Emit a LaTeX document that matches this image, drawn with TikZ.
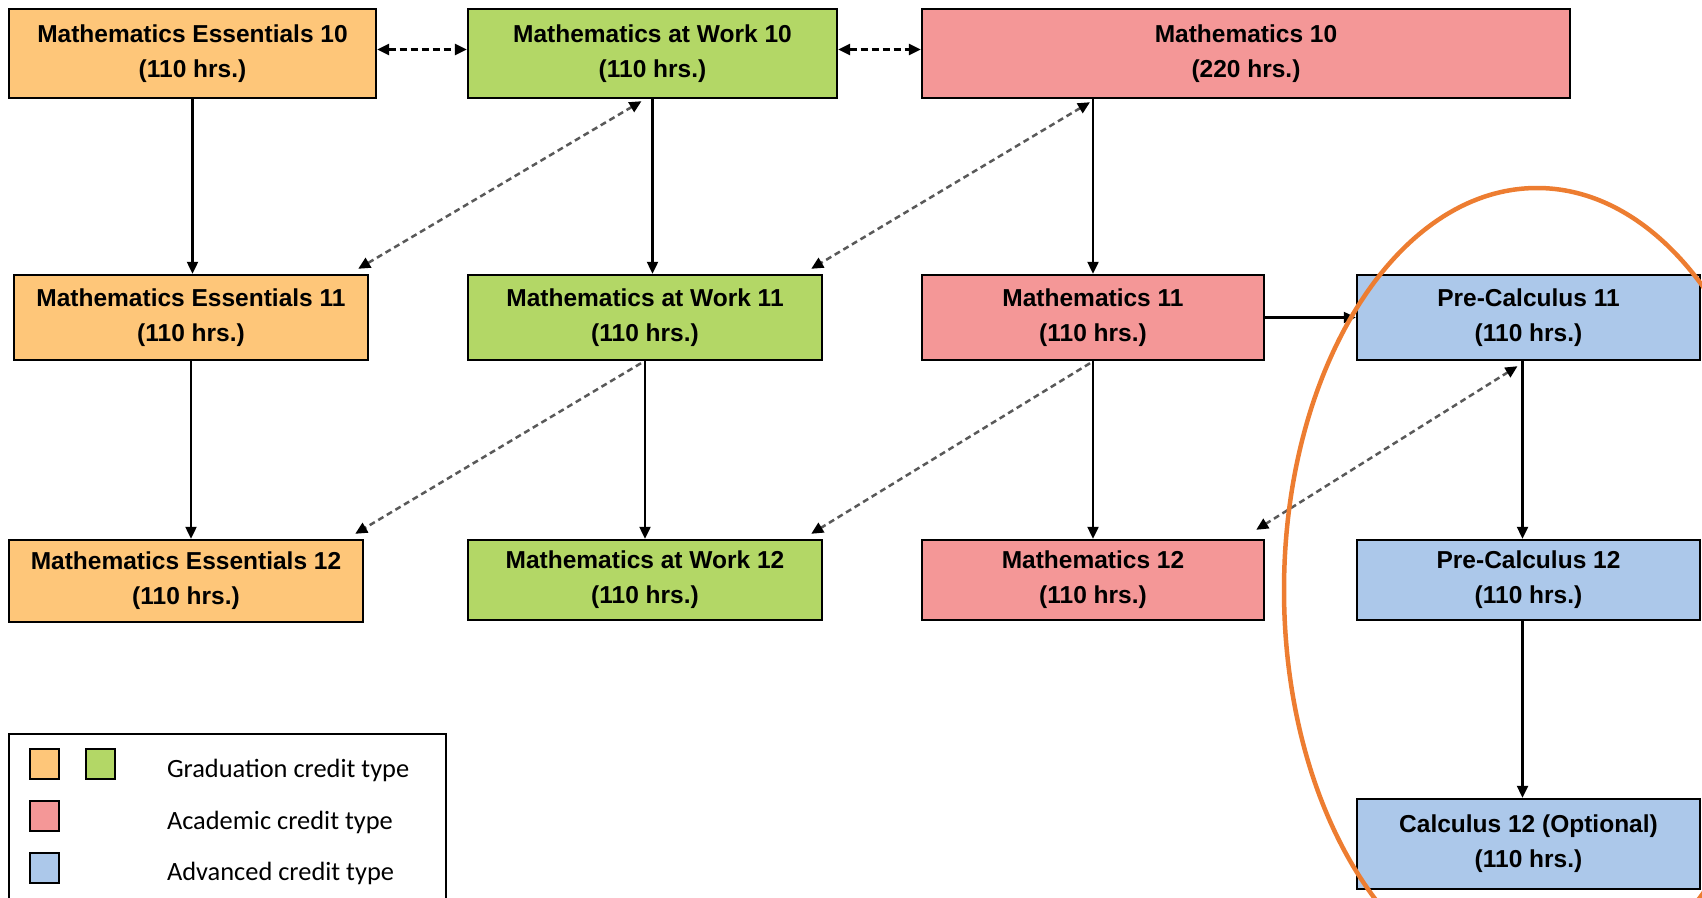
\documentclass[tikz,border=0pt]{standalone}
\usepackage{fontspec}
\setmainfont{Liberation Sans}
\newfontfamily\keyfont{Carlito}
\usetikzlibrary{arrows.meta,calc}

\definecolor{essfill}{RGB}{254,198,121}
\definecolor{workfill}{RGB}{179,215,102}
\definecolor{mathfill}{RGB}{244,151,151}
\definecolor{prefill}{RGB}{172,200,234}
\definecolor{ringorange}{RGB}{237,125,49}

\tikzset{
	course/.style={draw=black, line width=2.4pt, align=center, inner sep=0pt,
		font=\fontsize{24.5}{35}\selectfont\bfseries},
	keysq/.style={draw=black, line width=2pt, minimum width=29pt, minimum height=30pt, inner sep=0pt},
	keytext/.style={font=\keyfont\fontsize{26.4}{30}\selectfont, inner sep=0pt},
	pathlink/.style={line width=2.2pt},
	swaplink/.style={line width=2.5pt, dash pattern=on 7pt off 4pt},
	dotlink/.style={draw=black!65, line width=2.5pt, dash pattern=on 6pt off 4pt}}
\tikzset{every picture/.style={line width=2pt}}

\begin{document}
\begin{tikzpicture}[x=1pt,y=1pt,yscale=-1,xscale=1,
	>={Triangle[length=12pt,width=11pt,color=black]}]
	\useasboundingbox (0,0) rectangle (1702,897);

	% Grade 10
	\node [course, fill=essfill, minimum width=367pt, minimum height=89pt] (ess10) at (192.5,53.5) {Mathematics Essentials 10\\(110 hrs.)};
	\node [course, fill=workfill, minimum width=369pt, minimum height=89pt] (work10) at (652.5,53.5) {Mathematics at Work 10\\(110 hrs.)};
	\node [course, fill=mathfill, minimum width=648pt, minimum height=89pt] (math10) at (1246,53.5) {Mathematics 10\\(220 hrs.)};

	% Grade 11
	\node [course, fill=essfill, minimum width=354pt, minimum height=85pt] (ess11) at (191,317.5) {Mathematics Essentials 11\\(110 hrs.)};
	\node [course, fill=workfill, minimum width=354pt, minimum height=85pt] (work11) at (645,317.5) {Mathematics at Work 11\\(110 hrs.)};
	\node [course, fill=mathfill, minimum width=342pt, minimum height=85pt] (math11) at (1093,317.5) {Mathematics 11\\(110 hrs.)};
	\node [course, fill=prefill, minimum width=343pt, minimum height=85pt] (pre11) at (1528.5,317.5) {Pre-Calculus 11\\(110 hrs.)};

	% Grade 12
	\node [course, fill=essfill, minimum width=354pt, minimum height=82pt] (ess12) at (186,581) {Mathematics Essentials 12\\(110 hrs.)};
	\node [course, fill=workfill, minimum width=354pt, minimum height=80pt] (work12) at (645,580) {Mathematics at Work 12\\(110 hrs.)};
	\node [course, fill=mathfill, minimum width=342pt, minimum height=80pt] (math12) at (1093,580) {Mathematics 12\\(110 hrs.)};
	\node [course, fill=prefill, minimum width=343pt, minimum height=80pt] (pre12) at (1528.5,580) {Pre-Calculus 12\\(110 hrs.)};
	\node [course, fill=prefill, minimum width=343pt, minimum height=90pt] (calc12) at (1528.5,844) {Calculus 12 (Optional)\\(110 hrs.)};

	% equivalent courses
	\draw [swaplink, <->] ($(ess10.east)+(0,-4)$) -- ($(work10.west)+(0,-4)$);
	\draw [swaplink, <->] ($(work10.east)+(0,-4)$) -- ($(math10.west)+(0,-4)$);

	% pathways
	\coordinate (m10foot) at (math10.south -| math11.north);
	\draw [pathlink, ->] (ess10.south) -- (ess10.south |- ess11.north);
	\draw [pathlink, ->] (work10.south) -- (work10.south |- work11.north);
	\draw [pathlink, ->] (m10foot) -- (math11.north);
	\draw [pathlink, ->] (ess11.south) -- (ess11.south |- ess12.north);
	\draw [pathlink, ->] (work11.south) -- (work11.south |- work12.north);
	\draw [pathlink, ->] (math11.south) -- (math12.north);
	\draw [pathlink, ->] (math11.east) -- (pre11.west);
	\draw [pathlink, ->] ($(pre11.south)+(-6,0)$) -- ($(pre12.north)+(-6,0)$);
	\draw [pathlink, ->] ($(pre12.south)+(-6,0)$) -- ($(calc12.north)+(-6,0)$);

	% transfers
	\draw [dotlink, <->] ($(work10.south)+(-11,2)$) -- ($(ess11.north east)+(-11,-5)$);
	\draw [dotlink, <->] ($(m10foot)+(-3,3)$) -- ($(work11.north east)+(-12,-5)$);
	\draw [dotlink, ->] ($(work11.south)+(-4,2)$) -- ($(ess12.north east)+(-9,-5)$);
	\draw [dotlink, ->] ($(math11.south)+(-3,2)$) -- ($(work12.north east)+(-12,-5)$);
	\draw [dotlink, <->] ($(pre11.south)+(-11,5)$) -- ($(math12.north east)+(-9,-9)$);

	% highlight
	\draw [draw=ringorange, line width=4.5pt] (1537,590) ellipse [x radius=253, y radius=402];

	% Legend
	\draw [line width=2pt] (9,734) rectangle (446,910);
	\node [keysq, fill=essfill] (keyess) at (44,764) {};
	\node [keysq, fill=workfill] (keywork) at (100.5,764) {};
	\node [keysq, fill=mathfill] (keymath) at (44,815.5) {};
	\node [keysq, fill=prefill] (keypre) at (44,867.5) {};
	\node [keytext, anchor=base west] (keygrad) at (166,777) {Graduation credit type};
	\node [keytext, anchor=base west] (keyacad) at (166,829) {Academic credit type};
	\node [keytext, anchor=base west] (keyadv) at (166,880) {Advanced credit type};

\end{tikzpicture}
\end{document}
